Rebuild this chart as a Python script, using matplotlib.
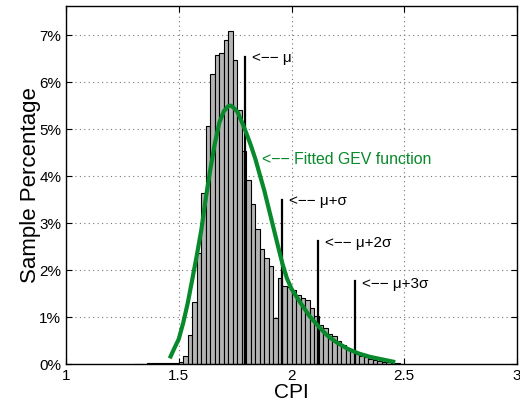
import matplotlib
matplotlib.use("Agg")
import matplotlib.pyplot as plt
import numpy as np

plt.rcParams['font.family'] = ['Liberation Sans', 'DejaVu Sans']

# histogram bins (left edges, width 0.02) and sample percentages
bin_left = [1.30, 1.32, 1.34, 1.36, 1.38, 1.40, 1.42, 1.44, 1.46, 1.48,
            1.50, 1.52, 1.54, 1.56, 1.58, 1.60, 1.62, 1.64, 1.66, 1.68,
            1.70, 1.72, 1.74, 1.76, 1.78, 1.80, 1.82, 1.84, 1.86, 1.88,
            1.90, 1.92, 1.94, 1.96, 1.98, 2.00, 2.02, 2.04, 2.06, 2.08,
            2.10, 2.12, 2.14, 2.16, 2.18, 2.20, 2.22, 2.24, 2.26, 2.28,
            2.30, 2.32, 2.34, 2.36, 2.38, 2.40, 2.42, 2.44, 2.46, 2.48]
pct = [0.01, 0.01, 0.01, 0.015, 0.015, 0.02, 0.02, 0.03, 0.03, 0.03,
       0.05, 0.17, 0.62, 1.32, 2.37, 3.64, 5.07, 6.18, 6.57, 6.61,
       6.89, 7.08, 6.46, 5.41, 4.53, 3.92, 3.41, 2.87, 2.45, 2.26,
       2.08, 0.98, 1.84, 1.67, 1.63, 1.57, 1.46, 1.41, 1.37, 1.19,
       1.02, 0.84, 0.76, 0.64, 0.59, 0.49, 0.41, 0.34, 0.28, 0.22,
       0.18, 0.14, 0.11, 0.09, 0.07, 0.05, 0.04, 0.03, 0.02, 0.01]
bin_width = 0.02

# fitted GEV curve
gev_x = [1.46, 1.48, 1.50, 1.52, 1.54, 1.56, 1.58, 1.60, 1.62, 1.64,
         1.66, 1.68, 1.70, 1.72, 1.73, 1.74, 1.76, 1.78, 1.80, 1.82,
         1.84, 1.86, 1.88, 1.90, 1.92, 1.94, 1.96, 1.98, 2.00, 2.04,
         2.08, 2.12, 2.16, 2.20, 2.25, 2.30, 2.35, 2.40, 2.46]
gev_y = [0.12, 0.33, 0.53, 0.88, 1.30, 1.80, 2.31, 2.85, 3.53, 4.14,
         4.69, 5.14, 5.38, 5.49, 5.50, 5.47, 5.37, 5.15, 4.91, 4.65,
         4.36, 4.02, 3.68, 3.29, 2.90, 2.51, 2.13, 1.82, 1.60, 1.30,
         1.02, 0.80, 0.60, 0.46, 0.32, 0.22, 0.15, 0.10, 0.04]

# statistic markers
stat_x = [1.792, 1.956, 2.119, 2.283]
stat_h = [6.53, 3.49, 2.62, 1.77]
stat_labels = ['<\u2212\u2212 \u03bc', '<\u2212\u2212 \u03bc+\u03c3',
               '<\u2212\u2212 \u03bc+2\u03c3', '<\u2212\u2212 \u03bc+3\u03c3']

x_ticks = [1, 1.5, 2, 2.5, 3]
x_tick_labels = ['1', '1.5', '2', '2.5', '3']
y_ticks = [0, 1, 2, 3, 4, 5, 6, 7]
y_tick_labels = ['0%', '1%', '2%', '3%', '4%', '5%', '6%', '7%']

fig = plt.figure(figsize=(5.2, 4.04), dpi=100)
ax = fig.add_axes([66/520, 40/404, (517-66)/520, (364-6)/404])

ax.bar(bin_left, pct, width=bin_width, align='edge', color='#b4b4b4',
       edgecolor='black', linewidth=0.8, zorder=2)

green = '#088a2c'
ax.plot(gev_x, gev_y, color=green, linewidth=3.0, zorder=4,
        solid_capstyle='butt', solid_joinstyle='round')

for sx, sh in zip(stat_x, stat_h):
    ax.plot([sx, sx], [0, sh], color='black', linewidth=1.6, zorder=3)

label_pos = [(1.823, 6.52), (1.991, 3.47), (2.150, 2.57), (2.314, 1.71)]
for (tx, ty), lab in zip(label_pos, stat_labels):
    ax.text(tx, ty, lab, fontsize=11, va='center', ha='left', color='black')
ax.text(1.867, 4.36, '<\u2212\u2212 Fitted GEV function', fontsize=11.4,
        va='center', ha='left', color=green)

ax.set_xlim(1, 3)
ax.set_ylim(0, 7.62)
ax.set_xticks(x_ticks)
ax.set_xticklabels(x_tick_labels)
ax.set_yticks(y_ticks)
ax.set_yticklabels(y_tick_labels)
ax.tick_params(direction='in', top=True, right=True, labelsize=11,
               length=4, width=0.8)
ax.grid(True, linestyle=(0, (1, 3)), color='#777777', linewidth=0.8)
ax.set_axisbelow(True)
for sp in ax.spines.values():
    sp.set_linewidth(1.0)
ax.set_xlabel('CPI', fontsize=15, labelpad=0)
ax.set_ylabel('Sample Percentage', fontsize=16)
ax.yaxis.set_label_coords(-0.055, 0.5)

fig.savefig('out.png', dpi=100)
